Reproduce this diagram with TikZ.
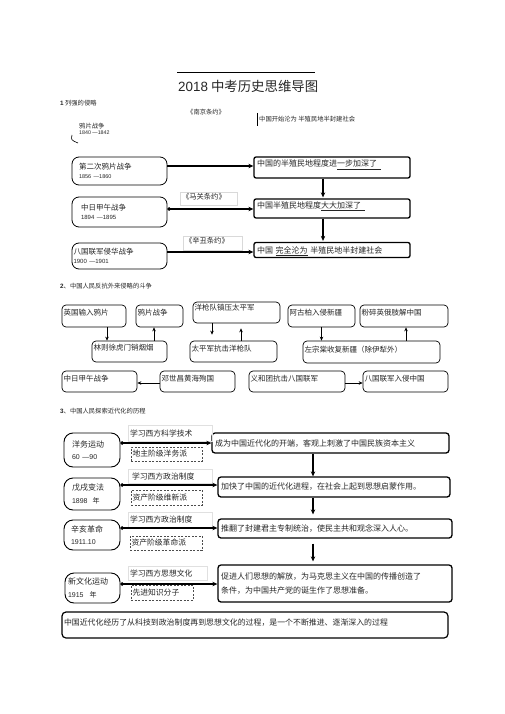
\documentclass[tikz,border=0pt]{standalone}
\usepackage{fontspec}
\setmainfont{Noto Sans CJK SC}
\newfontfamily\latinf{Liberation Sans}
\usetikzlibrary{arrows.meta}
\begin{document}
\begin{tikzpicture}[x=1pt,y=-1pt,
  every node/.style={inner sep=0pt, text=black!85},
  hd/.style 2 args={text height=#1pt, text depth=#2pt},
  sOneL/.style={draw, line width=0.8pt, rounded corners=7pt, align=left, font=\fontsize{7.5}{9}\selectfont},
  sOneR/.style={draw, line width=1.3pt, rounded corners=2pt, align=left, inner xsep=3pt, font=\fontsize{8}{10}\selectfont},
  treaty/.style={draw=black!15, line width=0.4pt, align=left, inner xsep=2pt, font=\fontsize{7.3}{9}\selectfont},
  sTwo/.style={draw, line width=0.7pt, rounded corners=4pt, align=left, inner xsep=1.5pt, font=\fontsize{7.5}{9}\selectfont},
  sThrL/.style={draw, line width=0.9pt, rounded corners=9pt, align=left, font=\fontsize{8}{12.5}\selectfont},
  sThrR/.style={draw, line width=1.3pt, rounded corners=3pt, align=left, inner xsep=3pt, font=\fontsize{8}{14}\selectfont},
  lab/.style={draw=black!12, line width=0.4pt, align=left, inner xsep=2pt, font=\fontsize{7.8}{9}\selectfont},
  dbox/.style={draw=black!70, dash pattern=on 2pt off 1.5pt, line width=0.6pt, align=left, inner xsep=1.5pt, font=\fontsize{7.8}{9}\selectfont},
  small/.style={font=\fontsize{6.3}{7}\selectfont},
  arr/.style={-{Stealth[length=4pt,width=3.5pt]}, line width=0.8pt},
  tarr/.style={-{Stealth[length=5pt,width=4.5pt]}, line width=1.2pt},
  darr/.style={{Circle[length=3.5pt]}-{Stealth[length=5pt,width=4.5pt]}, line width=1.2pt}
]
\fill[white] (0,0) rectangle (505,714);
\useasboundingbox (0,0) rectangle (505,714);

% ---- title ----
\draw[line width=0.7pt] (177,72.7) -- (315,72.7);
\node[anchor=west, font=\fontsize{13.4}{15}\selectfont] (title) at (178,86) {{\latinf 2018} 中考历史思维导图};

% ---- section 1 ----
\node[anchor=west, small] (h1) at (60,103) {{\latinf\bfseries 1} 列强的侵略};
\node[anchor=west, small] (nj) at (187,112) {《南京条约》};
\node[anchor=north west, small, hd={8.8}{4.2}] (nj2) at (259,113) {中国开始沦为 半殖民地半封建社会};
\draw[line width=0.8pt] ([xshift=-2pt]nj2.north west) -- ([xshift=-2pt]nj2.south west);
\node[anchor=west, small] (op) at (79,126.5) {鸦片战争};
\node[anchor=west, font=\fontsize{5.3}{6}\selectfont] (opy) at (79,133) {\latinf 1840 —1842};
\draw[line width=0.6pt] (72,135) .. controls (71,140) .. (78,143);

\node[sOneL, inner xsep=7pt, text width=81pt, minimum height=28pt] (L1) at (119.5,171)
  {第二次鸦片战争\\{\latinf\fontsize{5.5}{7}\selectfont 1856 —1860}};
\node[sOneL, inner xsep=9pt, text width=77pt, minimum height=30pt] (L2) at (119.5,212)
  {中日甲午战争\\{\latinf\fontsize{6}{7}\selectfont 1894 —1895}};
\node[sOneL, inner xsep=1.5pt, text width=92pt, minimum height=26pt] (L3) at (119.5,256)
  {八国联军侵华战争\\{\latinf\fontsize{6}{7}\selectfont 1900 —1901}};

\node[sOneR, text width=150pt, hd={10}{11}] (R1) at (332,167.5)
  {中国的半殖民地程度进\underline{一步加深了\hspace{4pt}}};
\node[sOneR, text width=150pt, hd={9}{10}] (R2) at (332,208.5)
  {中国半殖民地程度\underline{大大加深了\hspace{4pt}}};
\node[sOneR, text width=150pt, hd={10.5}{4.5}] (R3) at (332,250)
  {中国 \underline{完全沦为} 半殖民地半封建社会};

\node[treaty, text width=53pt, hd={7}{6}] (M1) at (208.5,198.5) {《马关条约》};
\node[treaty, text width=55pt, hd={7}{7}] (M2) at (212.5,243) {《辛丑条约》};

\draw[tarr] ([yshift=5pt]L1.east) -- ([yshift=5pt]L1.east -| R1.west);
\draw[darr] ([yshift=3pt]L2.east) -- ([yshift=3pt]L2.east -| R2.west);
\draw[tarr] ([yshift=4pt]L3.east) -- ([yshift=4pt]L3.east -| R3.west);
\draw[tarr, shorten >=1pt] ([xshift=-9pt]R1.south) -- ([xshift=-9pt]R1.south |- R2.north);
\draw[tarr, shorten >=1pt] ([xshift=-9pt]R2.south) -- ([xshift=-9pt]R2.south |- R3.north);

% ---- section 2 ----
\node[anchor=west, small] (h2) at (60,286) {{\latinf\bfseries 2}、中国人民反抗外来侵略的斗争};

\node[sTwo, text width=61pt, hd={10.8}{11.2}] (A1) at (94,316) {英国输入鸦片};
\node[sTwo, text width=44pt, hd={10.8}{11.2}] (A2) at (159.5,316) {鸦片战争};
\node[sTwo, text width=84pt, hd={8.8}{12.2}] (A3) at (236.5,312.5) {洋枪队镇压太平军};
\node[sTwo, text width=64pt, hd={10.8}{11.2}] (A4) at (321.5,316) {阿古柏入侵新疆};
\node[sTwo, text width=85pt, hd={10.8}{11.2}] (A5) at (404,316) {粉碎英俄肢解中国};

\node[sTwo, text width=72pt, hd={9.8}{11.2}] (B1) at (129.5,351.5) {林则徐虎门销烟烟};
\node[sTwo, text width=84pt, hd={10.8}{10.2}] (B2) at (233.5,351.5) {太平军抗击洋枪队};
\node[sTwo, text width=134pt, hd={11.8}{10.2}] (B3) at (371.5,352) {左宗棠收复新疆（除伊犁外）};

\node[sTwo, text width=72pt, hd={10.8}{10.2}] (C1) at (99.5,381.5) {中日甲午战争};
\node[sTwo, text width=72pt, hd={10.8}{10.2}] (C2) at (197.5,381.5) {邓世昌黄海殉国};
\node[sTwo, text width=93pt, hd={10.8}{10.2}] (C3) at (297,381.5) {义和团抗击八国联军};
\node[sTwo, text width=82pt, hd={10.8}{10.2}] (C4) at (405.5,381.5) {八国联军入侵中国};

\draw[arr] ([xshift=13pt]A1.south) -- ([xshift=13pt]A1.south |- B1.north);
\draw[arr] ([xshift=-5.5pt]A2.south |- B1.north) -- ([xshift=-5.5pt]A2.south);
\draw[arr, shorten >=6pt] ([xshift=-24.5pt]A3.south) -- ([xshift=-24.5pt]A3.south |- B2.north);
\draw[arr, shorten >=5pt] ([xshift=4.5pt]A3.south |- B2.north) -- ([xshift=4.5pt]A3.south);
\draw[arr] (A4.south) -- (A4.south |- B3.north);
\draw[arr] ([xshift=2pt]A5.south |- B3.north) -- ([xshift=2pt]A5.south);
\draw[arr] ([yshift=-1.5pt]C2.west) -- ([yshift=-1.5pt]C2.west -| C1.east);
\draw[arr] ([yshift=-1.5pt]C3.east) -- ([yshift=-1.5pt]C3.east -| C4.west);

% ---- section 3 ----
\node[anchor=west, small] (h3) at (60,411) {{\latinf\bfseries 3}、中国人民探索近代化的历程};

\node[sThrL, inner xsep=8pt, text width=40pt, minimum height=34pt] (Y1) at (92,450)
  {洋务运动\\{\latinf\fontsize{7}{8}\selectfont 60 —90}};
\node[sThrL, inner xsep=8pt, text width=40pt, minimum height=32pt] (Y2) at (92,494)
  {戊戌变法\\{\latinf\fontsize{7}{8}\selectfont 1898}\hspace{5pt}{\fontsize{7}{8}\selectfont 年}};
\node[sThrL, inner xsep=7pt, text width=42pt, minimum height=30pt] (Y3) at (92,535)
  {辛亥革命\\{\latinf\fontsize{7}{8}\selectfont 1911.10}};
\node[sThrL, inner xsep=3pt, text width=49pt, minimum height=30pt] (Y4) at (92.5,588)
  {新文化运动\\{\latinf\fontsize{7}{8}\selectfont 1915}\hspace{6pt}{\fontsize{7}{8}\selectfont 年}};

\node[sThrR, text width=231pt, hd={13}{7}] (S1) at (330.5,443) {成为中国近代化的开端，客观上刺激了中国民族资本主义};
\node[sThrR, text width=226pt, hd={12}{8}] (S2) at (334,487) {加快了中国的近代化进程，在社会上起到思想启蒙作用。};
\node[sThrR, text width=228pt, hd={12}{7}] (S3) at (335,528.5) {推翻了封建君主专制统治，使民主共和观念深入人心。};
\node[sThrR, text width=228pt, minimum height=37pt] (S4) at (335,583.5)
  {促进人们思想的解放，为马克思主义在中国的传播创造了\\条件，为中国共产党的诞生作了思想准备。};

\node[lab, text width=80pt, hd={11}{5}] (K1) at (170,433) {学习西方科学技术};
\node[lab, text width=80pt, hd={10}{4}] (K2) at (170,476) {\hspace{2pt}学习西方政治制度};
\node[lab, text width=80pt, hd={10}{5}] (K3) at (170,519.5) {学习西方政治制度};
\node[lab, text width=75pt, hd={10}{4}] (K4) at (167.5,573) {学习西方思想文化};

\node[dbox, text width=68pt, hd={9}{5}] (D1) at (166.5,454) {地主阶级洋务派};
\node[dbox, text width=68pt, hd={10}{5}] (D2) at (166.5,497.5) {资产阶级维新派};
\node[dbox, text width=69pt, hd={9}{5}] (D3) at (166,543) {资产阶级革命派};
\node[dbox, text width=59pt, hd={10}{5}] (D4) at (162,592.5) {先进知识分子};

\draw[darr] ([yshift=7pt]Y1.east) -- ([yshift=7pt]Y1.east -| S1.west);
\draw[darr] ([yshift=9pt]Y2.east) -- ([yshift=9pt]Y2.east -| S2.west);
\draw[darr] ([yshift=7pt]Y3.east) -- ([yshift=7pt]Y3.east -| S3.west);
\draw[darr] ([yshift=4pt]Y4.east) -- ([yshift=4pt]Y4.east -| S4.west);

\draw[tarr] ([xshift=-17.5pt]S1.south) -- ([xshift=-17.5pt]S1.south |- S2.north);
\draw[tarr, shorten >=4pt] ([xshift=-21pt]S2.south) -- ([xshift=-21pt]S2.south |- S3.north);
\draw[tarr, shorten <=5pt, shorten >=3pt] ([xshift=-22pt]S3.south) -- ([xshift=-22pt]S3.south |- S4.north);

\node[draw, line width=1.2pt, rounded corners=4pt, align=left, inner xsep=2pt, text width=382pt, hd={13}{13},
  font=\fontsize{7.9}{9}\selectfont] (E) at (255,625)
  {中国近代化经历了从科技到政治制度再到思想文化的过程，是一个不断推进、逐渐深入的过程};
\end{tikzpicture}
\end{document}
